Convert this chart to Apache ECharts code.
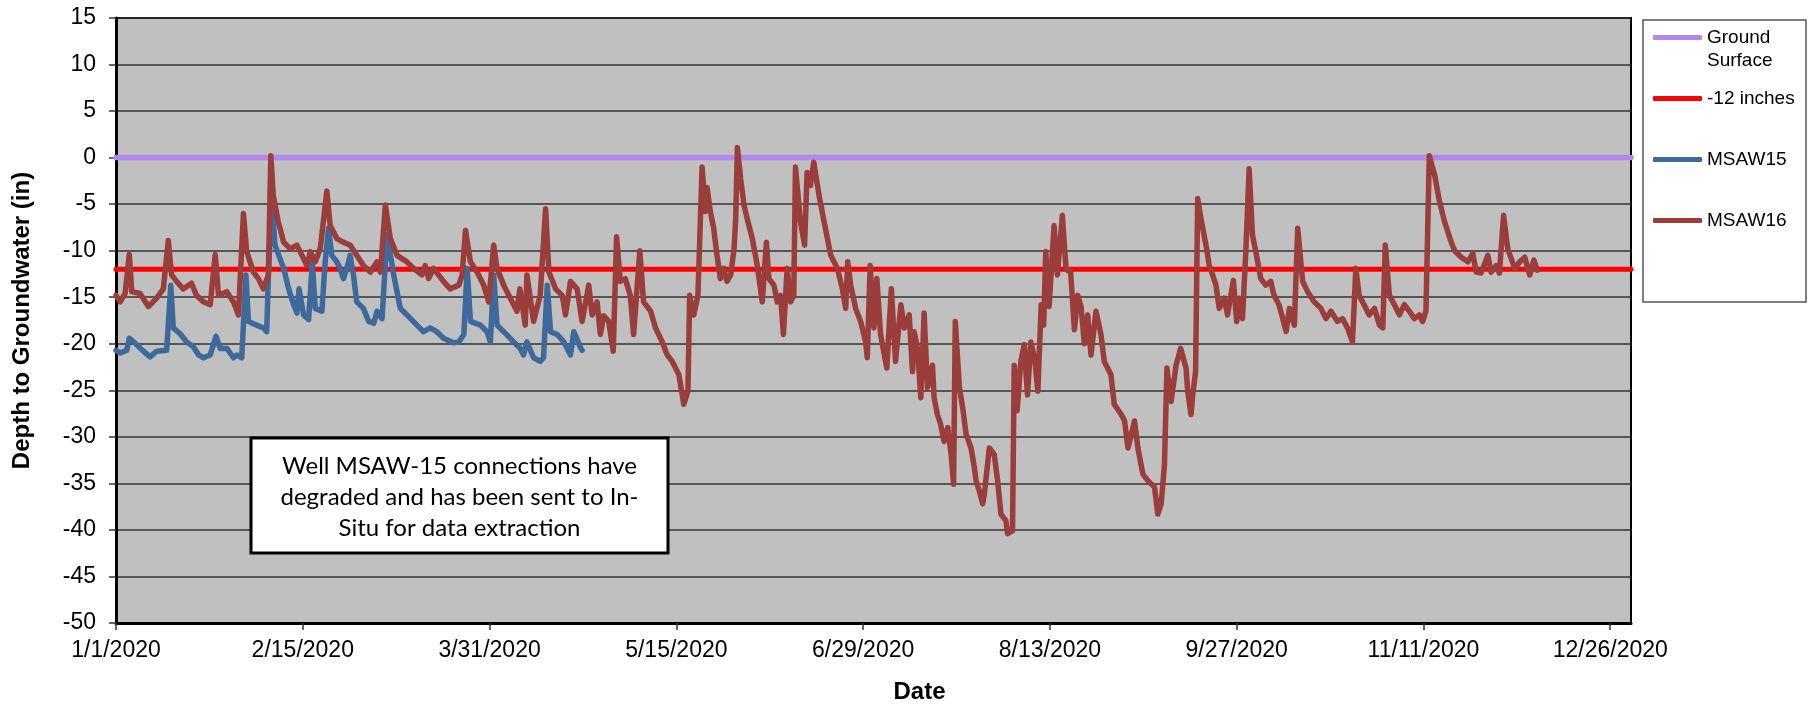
<!DOCTYPE html>
<html>
<head>
<meta charset="utf-8">
<title>Depth to Groundwater</title>
<script src="https://cdn.jsdelivr.net/npm/echarts@6.0.0/dist/echarts.min.js"></script>
<style>
  html, body { margin: 0; padding: 0; background: #fff; }
  #chart { width: 1820px; height: 709px; }
</style>
</head>
<body>
<div id="chart"></div>
<script>
// x values are days counted from 1/1/2020
const xTickDays = [0, 45, 90, 135, 180, 225, 270, 315, 360]
const xTickLabels = ['1/1/2020', '2/15/2020', '3/31/2020', '5/15/2020', '6/29/2020',
  '8/13/2020', '9/27/2020', '11/11/2020', '12/26/2020']

const groundDays = [0, 365]
const groundDepth = [0, 0]
const limitDays = [0, 365]
const limitDepth = [-12, -12]

const msaw15Day = [0, 1.0, 2.6, 3.2, 5.0, 6.6, 8.2, 9.8, 12.2, 12.6, 13.2, 13.8, 15.4, 17.0, 18.6, 19.9,
  21.1, 22.7, 24.1, 25.1, 26.7, 28.3, 29.1, 30.3, 31.3, 31.9, 33.9, 35.5, 36.3, 36.7, 37.5, 38.3,
  40.4, 41.6, 42.8, 43.6, 44.1, 45.2, 46.4, 47.3, 48.0, 49.6, 50.4, 51.2, 52.0, 53.2, 54.0, 54.8,
  55.6, 56.4, 57.2, 58.0, 59.6, 60.9, 62.1, 62.9, 64.1, 65.3, 66.9, 68.5, 70.1, 72.5, 74.1, 75.7,
  77.3, 78.9, 81.3, 82.6, 83.8, 84.6, 85.4, 87.8, 89.4, 90.2, 91.0, 91.8, 93.4, 95.8, 97.4, 98.2,
  99.0, 100.6, 102.2, 103.0, 103.9, 104.7, 106.3, 107.9, 109.5, 110.3, 112.0, 112.3]
const msaw15Depth = [-20.7, -21.0, -20.7, -19.4, -20.1, -20.8, -21.4, -20.8, -20.7, -20.5, -13.7, -18.3, -18.9, -19.8, -20.3, -21.2,
  -21.5, -21.2, -19.2, -20.5, -20.5, -21.5, -21.2, -21.5, -12.6, -17.6, -18.0, -18.3, -18.7, -13.0, -4.1, -9.4,
  -11.9, -14.1, -15.8, -16.7, -14.1, -16.9, -17.4, -11.2, -16.2, -16.5, -11.2, -7.6, -10.5, -11.2, -11.9, -13.0,
  -11.9, -10.5, -12.6, -15.5, -16.2, -17.6, -17.8, -16.5, -17.3, -8.3, -12.6, -16.2, -16.9, -18.0, -18.7, -18.3,
  -18.7, -19.4, -19.9, -19.8, -19.0, -11.9, -17.6, -18.0, -18.7, -19.8, -12.6, -18.0, -18.7, -19.8, -20.5, -21.2,
  -19.8, -21.5, -21.9, -21.5, -13.7, -18.7, -19.0, -19.8, -21.2, -18.7, -20.5, -20.7]

const msaw16Day = [0, 1.0, 2.2, 3.2, 3.8, 5.8, 7.8, 9.8, 11.4, 12.6, 13.4, 14.6, 16.2, 18.2, 19.4, 21.1,
  22.7, 23.9, 24.7, 26.7, 28.3, 29.5, 30.7, 31.5, 32.3, 33.1, 34.3, 35.5, 36.7, 37.3, 37.9, 39.1,
  40.4, 42.0, 43.6, 44.8, 46.0, 46.8, 48.0, 49.2, 50.8, 51.6, 53.2, 54.8, 56.4, 58.0, 59.6, 61.3,
  62.9, 63.7, 64.9, 66.1, 67.7, 70.1, 71.7, 73.7, 74.5, 75.3, 76.5, 78.9, 80.5, 82.6, 83.4, 84.2,
  85.4, 87.0, 88.6, 89.8, 91.0, 91.8, 93.4, 95.0, 96.6, 97.3, 98.6, 99.0, 100.6, 102.2, 103.5, 104.3,
  105.9, 107.5, 108.3, 109.5, 111.1, 112.3, 113.9, 114.7, 115.9, 116.7, 117.5, 118.7, 119.8, 120.6, 121.5, 122.7,
  123.9, 124.7, 126.2, 127.1, 128.8, 130.0, 131.6, 132.8, 134.0, 135.6, 136.8, 137.8, 138.2, 139.2, 140.2, 141.2,
  142.0, 142.4, 143.2, 144.0, 144.8, 145.6, 146.4, 147.2, 148.1, 148.9, 149.3, 149.7, 150.5, 151.3, 152.1, 153.3,
  154.5, 155.7, 156.7, 157.3, 158.5, 159.3, 160.1, 160.8, 161.7, 162.5, 163.3, 163.7, 164.9, 165.9, 166.5, 167.3,
  168.1, 169.4, 170.6, 172.2, 173.8, 175.0, 175.8, 176.3, 177.0, 178.2, 179.4, 180.6, 181.0, 181.7, 182.6, 183.3,
  184.2, 185.7, 186.8, 187.8, 189.1, 189.9, 191.1, 191.9, 192.3, 193.1, 193.9, 194.7, 195.5, 196.7, 197.1, 197.9,
  198.7, 199.5, 200.4, 201.2, 201.8, 202.2, 203.2, 204.0, 204.8, 206.0, 206.8, 207.2, 208.0, 208.8, 209.2, 210.4,
  211.6, 212.4, 213.2, 214.4, 214.8, 216.0, 216.4, 217.1, 218.0, 218.8, 219.6, 220.4, 221.3, 222.1, 222.9, 223.5,
  224.0, 224.8, 226.0, 226.8, 228.0, 228.9, 230.0, 230.9, 231.7, 232.5, 233.3, 234.1, 234.9, 236.1, 237.3, 238.1,
  239.7, 240.5, 242.2, 243.0, 243.8, 245.4, 246.2, 247.4, 248.6, 250.2, 251.0, 251.8, 252.6, 253.2, 254.2, 255.4,
  256.5, 257.8, 258.2, 259.0, 259.4, 260.1, 260.6, 261.4, 262.6, 263.4, 264.2, 265.0, 265.8, 267.0, 267.8, 269.2,
  270.0, 270.6, 271.4, 272.2, 273.0, 273.8, 274.6, 275.8, 277.0, 278.2, 279.0, 280.2, 281.1, 281.9, 282.7, 283.9,
  284.7, 285.9, 287.1, 288.7, 290.3, 291.5, 292.7, 294.3, 295.5, 296.7, 297.9, 298.7, 299.5, 300.7, 301.9, 303.2,
  304.4, 305.2, 305.8, 306.8, 308.0, 309.2, 310.4, 311.6, 312.8, 314.0, 314.8, 315.6, 316.4, 317.7, 318.9, 320.1,
  321.7, 322.5, 324.1, 325.7, 326.9, 327.7, 328.9, 330.5, 331.3, 332.5, 333.3, 334.3, 335.3, 337.0, 338.2, 339.4,
  340.6, 341.6, 342.4]
const msaw16Depth = [-14.8, -15.5, -14.6, -10.4, -14.4, -14.6, -16.0, -15.1, -14.1, -8.9, -12.6, -13.3, -14.1, -13.5, -14.8, -15.5,
  -15.8, -10.4, -14.8, -14.4, -15.5, -16.9, -6.0, -10.1, -11.2, -12.3, -13.0, -14.1, -12.6, 0.2, -4.1, -6.9,
  -9.1, -9.8, -9.4, -10.5, -11.6, -10.1, -11.2, -9.8, -3.6, -7.3, -8.7, -9.1, -9.4, -10.5, -11.6, -12.3,
  -11.2, -12.3, -5.1, -8.7, -10.5, -11.2, -11.9, -12.6, -11.6, -13.0, -11.9, -13.3, -14.1, -13.7, -12.6, -7.8,
  -11.2, -12.3, -13.7, -15.5, -9.4, -11.9, -13.7, -15.1, -16.5, -14.1, -18.0, -12.6, -17.6, -14.8, -5.5, -12.3,
  -14.1, -14.8, -16.9, -13.3, -14.1, -17.6, -13.7, -16.9, -15.5, -19.0, -17.0, -17.6, -20.8, -8.5, -13.3, -13.0,
  -14.8, -19.0, -10.0, -15.5, -16.5, -18.3, -19.8, -21.2, -21.9, -23.3, -26.5, -25.1, -14.8, -16.9, -14.8, -1.0,
  -5.8, -3.2, -5.8, -7.6, -10.5, -13.0, -11.9, -13.3, -12.6, -9.8, -6.6, 1.1, -2.3, -5.1, -6.6, -8.7,
  -11.6, -15.5, -9.1, -13.0, -13.7, -15.5, -14.8, -19.0, -11.9, -15.5, -14.8, -1.0, -6.9, -9.4, -1.6, -3.0,
  -0.5, -4.1, -6.9, -10.5, -11.9, -14.1, -16.2, -11.2, -13.7, -16.2, -17.6, -19.8, -21.5, -11.6, -18.3, -13.0,
  -19.0, -22.6, -14.1, -21.9, -15.8, -18.3, -16.9, -23.0, -18.7, -20.5, -25.8, -16.7, -24.7, -22.3, -25.8, -27.6,
  -28.7, -30.5, -29.0, -31.9, -35.1, -17.6, -24.7, -26.9, -29.7, -31.2, -33.3, -34.7, -35.8, -37.2, -36.2, -31.2,
  -31.9, -34.7, -38.3, -39.0, -40.4, -40.1, -22.3, -27.2, -21.9, -20.1, -25.5, -19.8, -21.5, -25.1, -15.8, -18.0,
  -10.1, -16.0, -7.3, -12.6, -6.2, -12.0, -12.3, -18.5, -14.8, -16.0, -20.0, -16.9, -21.2, -16.5, -19.0, -21.9,
  -23.3, -26.5, -27.6, -28.3, -31.2, -28.3, -31.2, -34.0, -34.7, -35.4, -38.3, -37.2, -33.0, -22.6, -26.2, -22.3,
  -20.5, -22.6, -25.1, -27.6, -25.5, -23.0, -4.4, -6.6, -9.4, -11.6, -12.6, -13.7, -16.2, -15.1, -16.9, -13.2,
  -17.6, -15.1, -17.3, -10.1, -1.2, -8.3, -10.1, -13.0, -13.7, -13.3, -14.8, -15.8, -17.3, -18.7, -16.2, -18.0,
  -7.6, -13.3, -14.4, -15.5, -16.2, -17.3, -16.5, -17.6, -17.3, -18.3, -19.8, -11.9, -14.8, -15.8, -16.9, -16.2,
  -18.0, -18.3, -9.4, -14.8, -15.8, -16.9, -15.8, -16.5, -17.3, -16.9, -17.6, -16.5, 0.2, -1.9, -4.8, -6.9,
  -9.1, -10.0, -10.7, -11.2, -10.3, -12.3, -12.4, -10.5, -12.3, -11.6, -12.4, -6.2, -9.8, -11.9, -11.2, -10.7,
  -12.6, -11.0, -12.1]

const pairs = (days, values) => days.map((d, i) => [d, values[i]])

const font = 'Liberation Sans'

const dom = echarts.init(document.getElementById('chart'))

const lineSeries = (name, color, days, values, width) => ({
  name: name,
  type: 'line',
  showSymbol: false,
  symbol: 'none',
  data: pairs(days, values),
  lineStyle: { color: color, width: width, cap: 'round', join: 'round' },
  itemStyle: { color: color }
})

// every legend entry is three lines tall; the name sits on the middle one,
// so "Ground" lines up with its icon and "Surface" hangs below
const legendText = name => name === 'Ground Surface'
  ? '{g| }\n{g|Ground}\n{g|Surface}'
  : '{g| }\n{g|' + name + '}\n{g| }'

const option = {
  animation: false,
  backgroundColor: '#ffffff',
  grid: {
    left: 116,
    top: 18,
    right: 189,
    bottom: 83,
    show: true,
    backgroundColor: '#c0c0c0',
    borderColor: '#000000',
    borderWidth: 2
  },
  legend: {
    orient: 'vertical',
    left: 1653,
    top: 5,
    z: 10,
    padding: 0,
    itemGap: -4,
    itemWidth: 49,
    itemHeight: 5,
    icon: 'roundRect',
    formatter: legendText,
    textStyle: {
      rich: { g: { fontFamily: font, fontSize: 19, color: '#000', lineHeight: 23 } }
    },
    data: ['Ground Surface', '-12 inches', 'MSAW15', 'MSAW16']
  },
  xAxis: {
    type: 'value',
    min: 0,
    max: 365,
    interval: 45,
    name: 'Date',
    nameLocation: 'middle',
    nameGap: 57,
    nameTextStyle: { fontFamily: font, fontSize: 24, fontWeight: 'bold', color: '#000', padding: [0, 0, 0, 92] },
    axisLine: { show: true, onZero: false, lineStyle: { color: '#000', width: 3 } },
    axisTick: { show: true, length: 7, customValues: xTickDays, lineStyle: { color: '#333', width: 1.5 } },
    axisLabel: {
      customValues: xTickDays,
      margin: 16,
      fontFamily: font,
      fontSize: 23,
      color: '#000',
      formatter: v => xTickLabels[xTickDays.indexOf(v)]
    },
    splitLine: { show: false }
  },
  yAxis: {
    type: 'value',
    min: -50,
    max: 15,
    interval: 5,
    name: 'Depth to Groundwater (in)',
    nameLocation: 'middle',
    nameGap: 82,
    nameTextStyle: { fontFamily: font, fontSize: 24, fontWeight: 'bold', color: '#000' },
    axisLine: { show: true, onZero: false, lineStyle: { color: '#000', width: 3 } },
    axisTick: { show: true, length: 7, lineStyle: { color: '#333', width: 1.5 } },
    axisLabel: { margin: 20, fontFamily: font, fontSize: 23, color: '#000' },
    splitLine: { show: true, lineStyle: { color: '#333', width: 1.5 } }
  },
  series: [
    lineSeries('Ground Surface', '#b189ec', groundDays, groundDepth, 5.5),
    lineSeries('-12 inches', '#ff0000', limitDays, limitDepth, 5),
    lineSeries('MSAW15', '#3e699b', msaw15Day, msaw15Depth, 5.5),
    lineSeries('MSAW16', '#9a3d3b', msaw16Day, msaw16Depth, 5.5)
  ],
  graphic: [
    // legend frame, drawn under the legend items
    {
      type: 'rect',
      z: 1,
      shape: { x: 1643, y: 20, width: 163, height: 282 },
      style: { fill: '#ffffff', stroke: '#555', lineWidth: 1.5 },
      silent: true
    },
    // note box
    {
      type: 'rect',
      z: 100,
      shape: { x: 251, y: 438, width: 417, height: 115 },
      style: { fill: '#ffffff', stroke: '#000', lineWidth: 3 },
      silent: true
    },
    {
      type: 'text',
      z: 101,
      x: 459.5,
      y: 497,
      silent: true,
      style: {
        text: 'Well MSAW-15 connections have\ndegraded and has been sent to In-\nSitu for data extraction',
        font: '24px Lato',
        fill: '#000',
        align: 'center',
        verticalAlign: 'middle',
        lineHeight: 31
      }
    }
  ]
}

dom.setOption(option)
</script>
</body>
</html>
